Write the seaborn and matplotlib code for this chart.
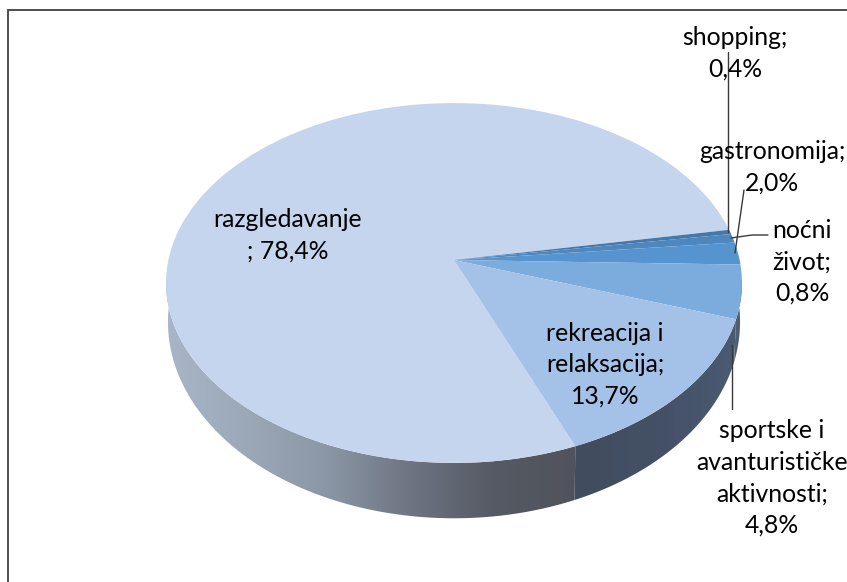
import matplotlib
matplotlib.use("Agg")
import matplotlib.pyplot as plt
import numpy as np
import seaborn as sns
from matplotlib.patches import Polygon
from matplotlib.transforms import Transform

# data, clockwise from the big slice
names = ['razgledavanje\n', 'shopping;\n', 'noćni\nživot;\n', 'gastronomija;\n',
         'sportske i\navanturističke\naktivnosti;\n', 'rekreacija i\nrelaksacija;\n']
values = [78.4, 0.4, 0.8, 2.0, 4.8, 13.7]
colors = ['#C5D5EE', '#4677A8', '#4E86BE', '#5594CE', '#7BACDD', '#A4C1E7']

START = -68
TILT = 0.1278


class PieView(Transform):
    """unit circle -> pixels, with a bit of perspective"""
    input_dims = 2
    output_dims = 2
    is_separable = False

    def __init__(self, cy, rx, ry):
        super().__init__()
        self.cy, self.rx, self.ry = cy, rx, ry

    def transform_non_affine(self, pts):
        pts = np.asarray(pts, dtype=float)
        w = 1 + TILT * pts[:, 1]
        return np.column_stack([454 + self.rx * pts[:, 0] / w, self.cy - self.ry * pts[:, 1] / w])


top = PieView(260, 285.6, 177)
bottom = PieView(297, 283.7, 193)

sns.set_theme(style="white")
plt.rcParams['font.family'] = ['Lato', 'DejaVu Sans']

fig = plt.figure(figsize=(8.47, 5.82), dpi=100)
ax = fig.add_axes([0, 0, 1, 1])

wedges, _ = ax.pie(values, colors=colors, startangle=START, counterclock=False, radius=1,
                   wedgeprops=dict(linewidth=0))
ax.set_aspect('auto')
for w in wedges:
    w.set_transform(top + ax.transData)
    w.set_zorder(3)


def rim_wall(a0, a1, stops, x0, x1):
    # side of the pie between two angles, filled with a horizontal gradient
    t = np.radians(np.linspace(a0, a1, 80))
    circle = np.column_stack([np.cos(t), np.sin(t)])
    outline = np.vstack([top.transform_non_affine(circle), bottom.transform_non_affine(circle)[::-1]])
    cmap = sns.blend_palette(stops, as_cmap=True)
    im = ax.imshow(np.linspace(0, 1, 256)[None, :], cmap=cmap, aspect='auto',
                   extent=(x0, x1, 530, 280), zorder=1)
    im.set_clip_path(Polygon(outline, transform=ax.transData))


# slice edges on the rim
total = sum(values)
rek_end = START + values[-1] * 360 / total
rim_wall(-190, START, ['#A9B6C8', '#9BA8B8', '#8A96A5', '#6E7482', '#555A64', '#50535B'], 164, 576)
rim_wall(START, rek_end, ['#414D5E', '#445064', '#4B5B72'], 572, 740)
rim_wall(rek_end, 0, ['#4B5B72', '#4E6078'], 725, 742)

ax.set_xlim(0, 847)
ax.set_ylim(582, 0)
ax.axis('off')

# frame of the chart area
ax.plot([7.5, 7.5, 847], [582, 9.5, 9.5], color='#404040', lw=1.3, zorder=2, solid_joinstyle='miter')

# leader lines
line_kw = dict(color='#3A3A3A', lw=1.0, zorder=4)
ax.plot([728, 728], [52, 232], **line_kw)
ax.plot([744, 735], [190, 253], **line_kw)
ax.plot([768, 752, 731], [235, 235, 238], **line_kw)
ax.plot([732, 732], [345, 409], **line_kw)

# labels
label_pos = [(288, 235), (735, 53), (802, 262), (772, 167), (772, 478), (605, 365)]
for name, v, (x, y) in zip(names, values, label_pos):
    txt = f"{v:.1f}".replace('.', ',') + '%'
    if name.startswith('razgled'):
        txt = '; ' + txt
    ax.text(x, y, name + txt, ha='center', va='center', fontsize=17.8,
            color='black', linespacing=1.45, zorder=5)

plt.savefig('out.png', dpi=100)
